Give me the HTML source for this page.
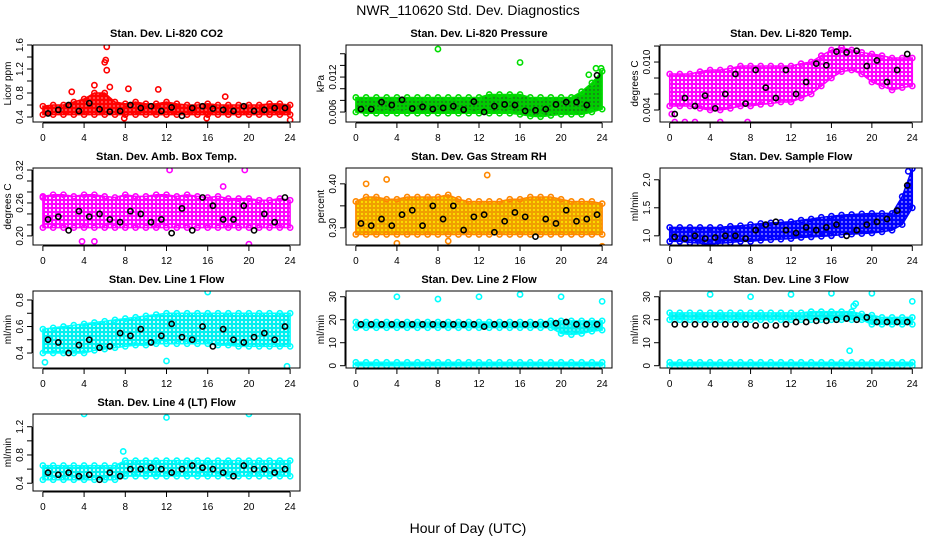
<!DOCTYPE html>
<html><head><meta charset="utf-8">
<style>
html,body{margin:0;padding:0;background:#fff;}
svg{display:block;font-family:"Liberation Sans",Arial,sans-serif;}
</style></head>
<body>
<svg id="chart" width="936" height="540" viewBox="0 0 936 540" xmlns="http://www.w3.org/2000/svg">
<rect width="936" height="540" fill="#fff"/>
<defs id="defs"></defs>
<text x="468" y="15" text-anchor="middle" font-size="14">NWR_110620  Std. Dev. Diagnostics</text>
<text x="468" y="533" text-anchor="middle" font-size="14">Hour of Day (UTC)</text>
</svg>
<script>
const xTicks = [0,4,8,12,16,20,24];
const bandHours = [0,1,2,3,4,5,6,7,8,9,10,11,12,13,14,15,16,17,18,19,20,21,22,23,24];
const blackHours = [0.5,1.5,2.5,3.5,4.5,5.5,6.5,7.5,8.5,9.5,10.5,11.5,12.5,13.5,14.5,15.5,16.5,17.5,18.5,19.5,20.5,21.5,22.5,23.5];

// Panel 1: CO2
const co2Lo = [0.44,0.44,0.44,0.44,0.44,0.44,0.44,0.44,0.44,0.44,0.44,0.44,0.44,0.44,0.44,0.44,0.44,0.44,0.44,0.44,0.44,0.44,0.44,0.44,0.44];
const co2Hi = [0.58,0.6,0.6,0.65,0.7,0.8,0.8,0.65,0.62,0.65,0.62,0.62,0.65,0.62,0.6,0.6,0.62,0.6,0.6,0.6,0.6,0.6,0.62,0.62,0.6];
const co2OutX = [6.2,6.1,6.0,6.2,2.8,5.0,6.5,8.3,11.2,17.7,7.9,15.9,24];
const co2OutY = [1.57,1.35,1.31,1.18,0.82,0.93,0.9,0.87,0.86,0.74,0.38,0.38,0.35];
const co2Black = [0.46,0.52,0.6,0.5,0.63,0.53,0.49,0.5,0.6,0.55,0.58,0.5,0.56,0.42,0.55,0.58,0.54,0.52,0.5,0.58,0.5,0.52,0.55,0.55];

// Panel 2: pressure
const prLo = [0.0060,0.0058,0.0058,0.0058,0.0058,0.0058,0.0058,0.0058,0.0058,0.0058,0.0058,0.0058,0.0058,0.0058,0.0058,0.0058,0.0056,0.0053,0.0052,0.0054,0.0056,0.0056,0.0056,0.0060,0.0065];
const prHi = [0.0085,0.0085,0.0085,0.0085,0.0085,0.0085,0.0085,0.0085,0.0085,0.0085,0.0085,0.0085,0.0085,0.009,0.009,0.009,0.009,0.0085,0.0085,0.0085,0.0085,0.0085,0.0095,0.011,0.013];
const prOutX = [8,16,23.4,22.7,23.9];
const prOutY = [0.0168,0.0145,0.0135,0.0124,0.0135];
const prBlack = [0.0065,0.0065,0.0077,0.0072,0.0081,0.0066,0.0069,0.0065,0.0067,0.0070,0.0064,0.0078,0.0060,0.0070,0.0073,0.0072,0.0062,0.0063,0.0065,0.0073,0.0077,0.0077,0.0072,0.0123];

// Panel 3: Li-820 temp
const tmLo = [0.0045,0.0045,0.0045,0.0042,0.0040,0.0040,0.0042,0.0045,0.0045,0.0047,0.0048,0.0050,0.0050,0.0055,0.0060,0.0070,0.0080,0.0088,0.0090,0.0085,0.0075,0.0070,0.0065,0.0068,0.0070];
const tmHi = [0.0085,0.0085,0.0085,0.0088,0.0090,0.0090,0.0092,0.0095,0.0095,0.0095,0.0095,0.0095,0.0095,0.0098,0.0100,0.0108,0.0115,0.0118,0.0115,0.0112,0.0110,0.0108,0.0105,0.0105,0.0105];
const tmOutX = [0.5,1.5,2.5,5,7.7,0.2];
const tmOutY = [0.0025,0.0025,0.0025,0.0025,0.0025,0.0035];
const tmBlack = [0.0035,0.0055,0.0045,0.0058,0.0042,0.006,0.0085,0.0048,0.009,0.0068,0.0055,0.009,0.006,0.0075,0.0098,0.0096,0.0113,0.0112,0.0114,0.0095,0.0102,0.0075,0.0090,0.0110];

// Panel 4: amb box temp
const abLo = [0.215,0.215,0.215,0.215,0.215,0.215,0.215,0.215,0.215,0.215,0.215,0.215,0.215,0.215,0.215,0.215,0.215,0.215,0.215,0.215,0.215,0.215,0.215,0.215,0.215];
const abHi = [0.272,0.275,0.275,0.272,0.275,0.275,0.272,0.27,0.275,0.272,0.272,0.275,0.275,0.272,0.275,0.272,0.27,0.272,0.268,0.268,0.268,0.265,0.265,0.268,0.265];
const abOutX = [12.3,19.6,3.8,5,20,0,17.5];
const abOutY = [0.32,0.32,0.19,0.19,0.185,0.27,0.29];
const abBlack = [0.23,0.235,0.21,0.245,0.235,0.24,0.23,0.225,0.245,0.24,0.225,0.23,0.205,0.25,0.21,0.27,0.255,0.23,0.23,0.255,0.21,0.24,0.225,0.27];

// Panel 5: gas stream RH
const rhLo = [0.285,0.285,0.285,0.285,0.285,0.285,0.285,0.285,0.285,0.285,0.285,0.285,0.285,0.285,0.285,0.285,0.285,0.285,0.285,0.285,0.285,0.285,0.285,0.285,0.285];
const rhHi = [0.36,0.37,0.37,0.365,0.365,0.37,0.37,0.37,0.37,0.375,0.365,0.36,0.36,0.36,0.36,0.365,0.365,0.37,0.37,0.37,0.365,0.36,0.36,0.36,0.355];
const rhOutX = [1,3,12.8,4,9,24];
const rhOutY = [0.40,0.41,0.42,0.265,0.27,0.258];
const rhBlack = [0.31,0.305,0.32,0.305,0.33,0.34,0.305,0.35,0.32,0.35,0.295,0.325,0.33,0.29,0.315,0.335,0.325,0.28,0.32,0.31,0.34,0.315,0.32,0.33];

// Panel 6: sample flow
const sfLo = [0.9,0.9,0.88,0.87,0.85,0.87,0.88,0.9,0.9,0.92,0.93,0.94,0.95,0.97,0.98,0.99,1.0,1.02,1.03,1.04,1.05,1.07,1.1,1.2,1.5];
const sfHi = [1.15,1.15,1.15,1.15,1.15,1.15,1.17,1.18,1.2,1.22,1.23,1.24,1.25,1.28,1.3,1.33,1.35,1.37,1.38,1.39,1.4,1.4,1.4,1.7,2.2];
const sfOutX = [3.5,23.6];
const sfOutY = [0.8,2.15];
const sfBlack = [0.98,0.95,1.0,0.95,0.97,1.0,1.0,0.95,1.1,1.2,1.25,1.1,1.05,1.15,1.1,1.15,1.2,1.0,1.1,1.2,1.25,1.3,1.45,1.9];

// Panel 7: line 1 flow
const l1Lo = [0.4,0.4,0.4,0.4,0.4,0.42,0.43,0.44,0.45,0.46,0.46,0.47,0.47,0.47,0.47,0.47,0.47,0.46,0.46,0.45,0.45,0.45,0.45,0.45,0.45];
const l1Hi = [0.58,0.59,0.6,0.61,0.62,0.63,0.64,0.65,0.66,0.67,0.68,0.69,0.7,0.7,0.7,0.7,0.7,0.7,0.7,0.7,0.7,0.7,0.7,0.7,0.7];
const l1OutX = [16,0.2,23.7,12];
const l1OutY = [0.86,0.33,0.3,0.34];
const l1Black = [0.5,0.48,0.4,0.46,0.5,0.44,0.45,0.55,0.53,0.58,0.48,0.53,0.62,0.52,0.5,0.6,0.45,0.58,0.5,0.48,0.52,0.55,0.5,0.6];

// Panel 8: line 2 flow
const l2Lo = [16.5,16.5,16.5,16.5,16.5,16.5,16.5,16.5,16.5,16.5,16.5,16.5,16.5,16.5,16.5,16.5,16.5,16.5,16.5,16.5,14,13.5,14,15,15.5];
const l2Hi = [19,19,19,19,19,19,19,19,19,19,19,19,19,19,19,19,19,19,19,19.5,19.5,19.5,19.5,19.5,19.5];
const l2LowLo = [0,0,0,0,0,0,0,0,0,0,0,0,0,0,0,0,0,0,0,0,0,0,0,0,0];
const l2LowHi = [1.5,1.5,1.5,1.5,1.5,1.5,1.5,1.5,1.5,1.5,1.5,1.5,1.5,1.5,1.5,1.5,1.5,1.5,1.5,1.5,1.5,1.5,1.5,1.5,1.5];
const l2OutX = [4,8,12,16,20,24];
const l2OutY = [30,29,30,31,30,28];
const l2Black = [18,18,18,18,18,18,18,18,18,18,18,18,17,18,18,18,18,18,18,18.5,19,18,18,18];

// Panel 9: line 3 flow
const l3Lo = [20,20,20,20,20,20,20,20,20,20,20,20,20,20,20,20,20,20,20,20,18,18,18,18,18];
const l3Hi = [23,23,23,23,23,23,23,23,23,23,23,23,23,23,23.5,23.5,23.5,23.5,23.5,22.5,22,21,21,21,21];
const l3LowLo = [0,0,0,0,0,0,0,0,0,0,0,0,0,0,0,0,0,0,0,0,0,0,0,0,0];
const l3LowHi = [1.5,1.5,1.5,1.5,1.5,1.5,1.5,1.5,1.5,1.5,1.5,1.5,1.5,1.5,1.5,1.5,1.5,1.5,1.5,1.5,1.5,1.5,1.5,1.5,1.5];
const l3OutX = [4,8,12,16,20,24,17.8,18.2,18.4];
const l3OutY = [31,30,31,31.5,31.5,28,6.5,26,27];
const l3Black = [18,18,18,18,18,18,18,18,17.5,17.5,17.5,18,19,19,19.5,19.5,20,20.5,20,21,19,19,19,19];

// Panel 10: line 4 flow
const l4Lo = [0.45,0.45,0.45,0.45,0.45,0.45,0.45,0.45,0.5,0.5,0.5,0.5,0.5,0.5,0.5,0.5,0.5,0.5,0.5,0.5,0.5,0.5,0.5,0.5,0.5];
const l4Hi = [0.65,0.65,0.65,0.65,0.65,0.65,0.65,0.65,0.72,0.72,0.72,0.72,0.72,0.72,0.72,0.72,0.72,0.72,0.72,0.72,0.72,0.72,0.72,0.72,0.72];
const l4OutX = [4,12,20,7.8];
const l4OutY = [1.38,1.33,1.38,0.85];
const l4Black = [0.55,0.52,0.55,0.5,0.52,0.45,0.55,0.5,0.6,0.6,0.62,0.6,0.55,0.6,0.65,0.62,0.6,0.55,0.5,0.65,0.6,0.6,0.55,0.6];

const NS = 'http://www.w3.org/2000/svg';
const svg = document.getElementById('chart');
const defs = document.getElementById('defs');
const colL = [33,346,660], colR = [300,612,922];
const rowT = [45,168,291,414], rowH = 77;

function mk(tag, attrs, parent){
  const e = document.createElementNS(NS, tag);
  for (const k in attrs) e.setAttribute(k, attrs[k]);
  (parent||svg).appendChild(e);
  return e;
}

const panels = [
  {name:'co2', title:'Stan. Dev. Li-820 CO2', ylab:'Licor ppm', r:0,c:0, y0:0.317, y1:1.6, ticks:[0.4,0.6,0.8,1.0,1.2,1.4,1.6], labels:[0.4,0.8,1.2,1.6], dec:1, col:'#ff0000', bg:'#ff0000', dot:'#ffffff', dotR:0.6, bands:[[co2Lo,co2Hi]], ox:co2OutX, oy:co2OutY, blk:co2Black},
  {name:'pressure', title:'Stan. Dev. Li-820 Pressure', ylab:'kPa', r:0,c:1, y0:0.00429, y1:0.0175, ticks:[0.006,0.008,0.010,0.012,0.014,0.016], labels:[0.006,0.012], dec:3, col:'#00dd00', bg:'#00cc00', dot:'#333333', dotR:0.7, bands:[[prLo,prHi]], ox:prOutX, oy:prOutY, blk:prBlack},
  {name:'li820-temp', title:'Stan. Dev. Li-820 Temp.', ylab:'degrees C', r:0,c:2, y0:0.0025, y1:0.01213, ticks:[0.004,0.006,0.008,0.010,0.012], labels:[0.004,0.010], dec:3, col:'#ff00ff', bg:'#ff00ff', dot:'#ffffff', dotR:1.1, bands:[[tmLo,tmHi]], ox:tmOutX, oy:tmOutY, blk:tmBlack},
  {name:'amb-box-temp', title:'Stan. Dev. Amb. Box Temp.', ylab:'degrees C', r:1,c:0, y0:0.1834, y1:0.3237, ticks:[0.20,0.22,0.24,0.26,0.28,0.30,0.32], labels:[0.20,0.26,0.32], dec:2, col:'#ff00ff', bg:'#ff00ff', dot:'#ffffff', dotR:1.1, bands:[[abLo,abHi]], ox:abOutX, oy:abOutY, blk:abBlack},
  {name:'gas-stream-rh', title:'Stan. Dev. Gas Stream RH', ylab:'percent', r:1,c:1, y0:0.261, y1:0.436, ticks:[0.30,0.35,0.40], labels:[0.30,0.40], dec:2, col:'#ff8800', bg:'#f0a000', dot:'#ffee00', dotR:1.0, bands:[[rhLo,rhHi]], ox:rhOutX, oy:rhOutY, blk:rhBlack},
  {name:'sample-flow', title:'Stan. Dev. Sample Flow', ylab:'ml/min', r:1,c:2, y0:0.836, y1:2.21, ticks:[1.0,1.5,2.0], labels:[1.0,1.5,2.0], dec:1, col:'#0000ff', bg:'#0000ff', dot:'#ffffff', dotR:0.7, bands:[[sfLo,sfHi]], ox:sfOutX, oy:sfOutY, blk:sfBlack},
  {name:'line1-flow', title:'Stan. Dev. Line 1 Flow', ylab:'ml/min', r:2,c:0, y0:0.287, y1:0.868, ticks:[0.4,0.5,0.6,0.7,0.8], labels:[0.4,0.6,0.8], dec:1, col:'#00ffff', bg:'#00f0f0', dot:'#ffffff', dotR:1.0, bands:[[l1Lo,l1Hi]], ox:l1OutX, oy:l1OutY, blk:l1Black},
  {name:'line2-flow', title:'Stan. Dev. Line 2 Flow', ylab:'ml/min', r:2,c:1, y0:-1, y1:32.5, ticks:[0,10,20,30], labels:[0,10,20,30], dec:0, col:'#00ffff', bg:'#00f0f0', dot:'#ffffff', dotR:0.6, bands:[[l2Lo,l2Hi],[l2LowLo,l2LowHi]], ox:l2OutX, oy:l2OutY, blk:l2Black},
  {name:'line3-flow', title:'Stan. Dev. Line 3 Flow', ylab:'ml/min', r:2,c:2, y0:-1, y1:32.5, ticks:[0,10,20,30], labels:[0,10,20,30], dec:0, col:'#00ffff', bg:'#00f0f0', dot:'#ffffff', dotR:0.6, bands:[[l3Lo,l3Hi],[l3LowLo,l3LowHi]], ox:l3OutX, oy:l3OutY, blk:l3Black},
  {name:'line4-flow', title:'Stan. Dev. Line 4 (LT) Flow', ylab:'ml/min', r:3,c:0, y0:0.29, y1:1.38, ticks:[0.4,0.6,0.8,1.0,1.2], labels:[0.4,0.8,1.2], dec:1, col:'#00ffff', bg:'#00f0f0', dot:'#ffffff', dotR:1.0, bands:[[l4Lo,l4Hi]], ox:l4OutX, oy:l4OutY, blk:l4Black}
];

panels.forEach(p => {
  const L = colL[p.c], R = colR[p.c], T = rowT[p.r], B = T + rowH;
  const xs = h => L + (h + 0.96) / 25.92 * (R - L);
  const ys = v => B - (v - p.y0) / (p.y1 - p.y0) * (B - T);
  // texture pattern for dense point cloud
  const patId = 'pat-' + p.name;
  const pat = mk('pattern', {id: patId, width: 4, height: 4, patternUnits: 'userSpaceOnUse'}, defs);
  mk('rect', {width: 4, height: 4, fill: p.bg}, pat);
  mk('circle', {cx: 2, cy: 2, r: p.dotR, fill: p.dot}, pat);

  const g = mk('g', {});
  
  
  const clipId = 'clip-' + p.name;
  const cp = mk('clipPath', {id: clipId}, g);
  mk('rect', {x:L, y:T, width:R-L, height:B-T}, cp);
  const plot = mk('g', {'clip-path': 'url(#' + clipId + ')'}, g);
  p.bands.forEach(bd => {
    const lo = bd[0], hi = bd[1];
    let pts = [];
    bandHours.forEach((h,i) => pts.push(xs(h)+','+ys(hi[i])));
    for (let i = bandHours.length-1; i >= 0; i--) pts.push(xs(bandHours[i])+','+ys(lo[i]));
    const poly = mk('polygon', {points: pts.join(' '), fill: 'url(#' + patId + ')', stroke: p.col, 'stroke-width': 1.5}, plot);
    
    
    bandHours.forEach((h,i) => {
      [lo[i], hi[i]].forEach(v => {
        const c = mk('circle', {cx: xs(h), cy: ys(v), r: 2.6, fill: 'none', stroke: p.col, 'stroke-width': 1.6}, plot);
        
        
      });
    });
  });
  p.ox.forEach((h,i) => {
    const c = mk('circle', {cx: xs(h), cy: ys(p.oy[i]), r: 2.6, fill: 'none', stroke: p.col, 'stroke-width': 1.6}, plot);
    
    
  });
  p.blk.forEach((v,i) => {
    const c = mk('circle', {cx: xs(blackHours[i]), cy: ys(v), r: 2.6, fill: 'none', stroke: '#000', 'stroke-width': 1.6}, plot);
    
    
  });
  const box = mk('rect', {x:L, y:T, width:R-L, height:B-T, fill:'none', stroke:'#000', 'stroke-width':1}, g);
  
  
  const t = mk('text', {x:(L+R)/2, y:T-8, 'text-anchor':'middle', 'font-size':11, 'font-weight':'bold'}, g);
  t.textContent = p.title;
  
  
  mk('line', {x1:xs(xTicks[0]), x2:xs(xTicks[xTicks.length-1]), y1:B+1, y2:B+1, stroke:'#000'}, g);
  xTicks.forEach(h => {
    mk('line', {x1:xs(h), x2:xs(h), y1:B+1, y2:B+6, stroke:'#000'}, g);
    const tx = mk('text', {x:xs(h), y:B+19, 'text-anchor':'middle', 'font-size':10}, g);
    tx.textContent = h;
    
    
  });
  mk('line', {x1:L-1, x2:L-1, y1:ys(p.ticks[0]), y2:ys(p.ticks[p.ticks.length-1]), stroke:'#000'}, g);
  p.ticks.forEach(v => mk('line', {x1:L-6, x2:L-1, y1:ys(v), y2:ys(v), stroke:'#000'}, g));
  p.labels.forEach(v => {
    const ty = ys(v), tx = L - 10;
    const lb = mk('text', {x:tx, y:ty, 'text-anchor':'middle', 'font-size':10, transform:'rotate(-90 '+tx+' '+ty+')'}, g);
    lb.textContent = v.toFixed(p.dec);
    
    
  });
  const yx = L - 22, yy = (T+B)/2;
  const yl = mk('text', {x:yx, y:yy, 'text-anchor':'middle', 'font-size':10, transform:'rotate(-90 '+yx+' '+yy+')'}, g);
  yl.textContent = p.ylab;
  
  
});
</script>
</body></html>
